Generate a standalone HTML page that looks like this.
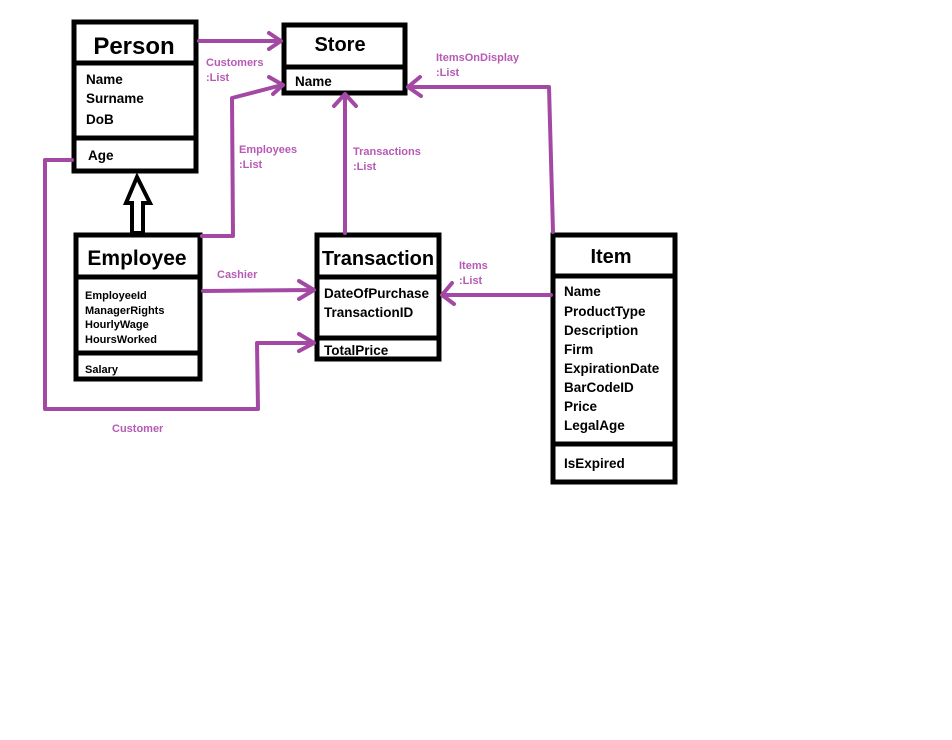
<!DOCTYPE html>
<html><head><meta charset="utf-8"><style>
html,body{margin:0;padding:0;background:#fff;width:952px;height:740px;overflow:hidden}
svg{display:block}
text{font-family:"Liberation Sans",sans-serif;font-weight:bold;fill:#000}
.p{fill:#b55ab5;font-size:11px}
</style></head><body>
<svg width="952" height="740" viewBox="0 0 952 740" xmlns="http://www.w3.org/2000/svg">
<g fill="none" stroke="#000" stroke-width="5">
<rect x="74" y="22" width="122" height="149"/><line x1="74" y1="63" x2="196" y2="63"/><line x1="74" y1="138" x2="196" y2="138"/>
<rect x="284" y="25" width="121" height="68"/><line x1="284" y1="67" x2="405" y2="67"/>
<rect x="76" y="235" width="124" height="144"/><line x1="76" y1="277" x2="200" y2="277"/><line x1="76" y1="353" x2="200" y2="353"/>
<rect x="317" y="235" width="122" height="124"/><line x1="317" y1="277" x2="439" y2="277"/><line x1="317" y1="338" x2="439" y2="338"/>
<rect x="553" y="235" width="122" height="247"/><line x1="553" y1="276" x2="675" y2="276"/><line x1="553" y1="444" x2="675" y2="444"/>
</g>
<path d="M137,177 L126,203 L132,203 L132,233 L143,233 L143,203 L150,203 Z" fill="#fff" stroke="#000" stroke-width="4" stroke-linejoin="miter"/>
<g fill="none" stroke="#a349a4" stroke-width="4" stroke-linecap="round" stroke-linejoin="round">
<path d="M199,41 L280,41 M269,33 L281,41 L269,49"/>
<path d="M202,236 L233,236 L232,98 L282,85 M269,77 L283,85 L273,94"/>
<path d="M345,233 L345,95 M334,106 L345,94 L356,106"/>
<path d="M553,232 L549,87 L408,87 M420,77 L408,87 L421,96"/>
<path d="M551,295 L443,295 M452,283 L442,295 L454,304"/>
<path d="M203,291 L313,290 M299,281 L314,290 L299,299"/>
<path d="M72,160 L45,160 L45,409 L258,409 L257,343 L313,343 M299,334 L314,343 L299,351"/>
</g>
<g font-size="24" text-anchor="middle"><text x="134" y="54">Person</text></g>
<text x="340" y="51" font-size="20" text-anchor="middle">Store</text>
<text x="137" y="265" font-size="21" text-anchor="middle">Employee</text>
<text x="378" y="265" font-size="20" text-anchor="middle">Transaction</text>
<text x="611" y="263" font-size="20" text-anchor="middle">Item</text>
<g font-size="13.5">
<text x="86" y="84">Name</text><text x="86" y="103">Surname</text><text x="86" y="124">DoB</text><text x="88" y="160">Age</text>
<text x="295" y="86">Name</text>
<text x="324" y="298">DateOfPurchase</text><text x="324" y="317">TransactionID</text><text x="324" y="355">TotalPrice</text>
<text x="564" y="296">Name</text><text x="564" y="316">ProductType</text><text x="564" y="335">Description</text><text x="564" y="354">Firm</text><text x="564" y="373">ExpirationDate</text><text x="564" y="392">BarCodeID</text><text x="564" y="411">Price</text><text x="564" y="430">LegalAge</text><text x="564" y="468">IsExpired</text>
</g>
<g font-size="11">
<text x="85" y="299">EmployeeId</text><text x="85" y="314">ManagerRights</text><text x="85" y="328">HourlyWage</text><text x="85" y="343">HoursWorked</text><text x="85" y="373">Salary</text>
</g>
<text class="p" x="206" y="66">Customers</text><text class="p" x="206" y="81">:List</text>
<text class="p" x="239" y="153">Employees</text><text class="p" x="239" y="168">:List</text>
<text class="p" x="353" y="155">Transactions</text><text class="p" x="353" y="170">:List</text>
<text class="p" x="436" y="61">ItemsOnDisplay</text><text class="p" x="436" y="76">:List</text>
<text class="p" x="459" y="269">Items</text><text class="p" x="459" y="284">:List</text>
<text class="p" x="217" y="278">Cashier</text>
<text class="p" x="112" y="432">Customer</text>
</svg>
</body></html>
